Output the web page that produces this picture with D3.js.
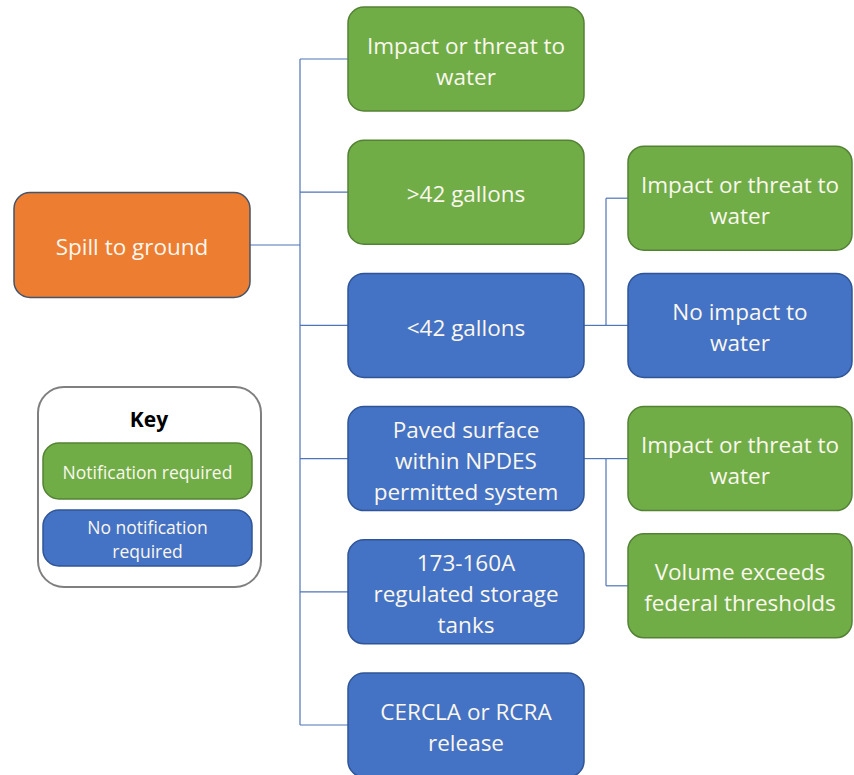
<!DOCTYPE html>
<html lang="en">
<head>
    <meta charset="UTF-8">
    <title>Spill to ground</title>
    <script src="https://cdnjs.cloudflare.com/ajax/libs/d3/7.8.5/d3.min.js"></script>
    <style>
        body { margin: 0; background: white; }
        svg { display: block; }
        text { font-family: 'Open Sans', 'Noto Sans', sans-serif; fill: #fbf7ee; text-anchor: middle; }
        line.link { stroke: #4f74b8; stroke-width: 1.2px; }
    </style>
</head>
<body>
<svg id="main" width="854" height="775"></svg>
<script>
    "use strict";

    // root of the tree
    const rootLabel = ["Spill to ground"];

    // second level, top to bottom
    const branchLabels = [
        ["Impact or threat to", "water"],
        [">42 gallons"],
        ["<42 gallons"],
        ["Paved surface", "within NPDES", "permitted system"],
        ["173-160A", "regulated storage", "tanks"],
        ["CERCLA or RCRA", "release"]
    ];
    const branchNotify = [true, true, false, false, false, false];

    // third level: parent index, slot relative to parent (-1 above, 0 level, 1 below)
    const leafParent = [2, 2, 3, 3];
    const leafSlot = [-1, 0, 0, 1];
    const leafLabels = [
        ["Impact or threat to", "water"],
        ["No impact to", "water"],
        ["Impact or threat to", "water"],
        ["Volume exceeds", "federal thresholds"]
    ];
    const leafNotify = [true, false, true, true];

    // key
    const keyLabels = [["Notification required"], ["No notification", "required"]];
    const keyNotify = [true, false];

    const colors = {
        notify: { fill: "#70ad47", stroke: "#548235" },
        none: { fill: "#4472c4", stroke: "#2f5597" },
        root: { fill: "#ed7d31", stroke: "#44546a" }
    };

    const boxW = 236, boxH = 104, radius = 16;
    const svg = d3.select("#main");

    const y = d3.scalePoint()
        .domain(d3.range(branchLabels.length))
        .range([59, 725]);
    const step = y.step();

    const rootX = 14, midX = 348, leafX = 628;
    const trunkX = 300;

    const links = svg.append("g");
    const nodes = svg.append("g");

    function drawBox(g, x, cy, w, h, lines, style, fontSize, lineH) {
        const box = g.append("g").attr("transform", "translate(" + x + "," + (cy - h / 2) + ")");
        box.append("rect")
            .attr("width", w).attr("height", h)
            .attr("rx", radius).attr("ry", radius)
            .attr("fill", style.fill).attr("stroke", style.stroke).attr("stroke-width", 1.5);
        const t = box.append("text")
            .attr("x", w / 2)
            .attr("font-size", fontSize);
        lines.forEach((s, i) => {
            t.append("tspan")
                .attr("x", w / 2)
                .attr("y", h / 2 + (i - (lines.length - 1) / 2) * lineH)
                .attr("dy", "0.45em")
                .text(s);
        });
    }

    // links: root to trunk, trunk to each branch
    const rootY = 245;
    links.append("line").attr("class", "link")
        .attr("x1", rootX + boxW).attr("y1", rootY).attr("x2", trunkX).attr("y2", rootY);
    links.append("line").attr("class", "link")
        .attr("x1", trunkX).attr("y1", y(0)).attr("x2", trunkX).attr("y2", y(branchLabels.length - 1));
    links.selectAll("line.branch")
        .data(branchLabels)
        .join("line")
        .attr("class", "link branch")
        .attr("x1", trunkX).attr("x2", midX)
        .attr("y1", (d, i) => y(i)).attr("y2", (d, i) => y(i));

    // leaves
    const leafY = leafParent.map((p, i) => y(p) + leafSlot[i] * step * 0.955);
    const elbowX = midX + boxW + 22;
    d3.groups(leafParent.map((p, i) => ({ p, i })), d => d.p).forEach(([p, kids]) => {
        links.append("line").attr("class", "link")
            .attr("x1", midX + boxW).attr("y1", y(p)).attr("x2", elbowX).attr("y2", y(p));
        const ys = kids.map(k => leafY[k.i]).concat([y(p)]);
        links.append("line").attr("class", "link")
            .attr("x1", elbowX).attr("x2", elbowX)
            .attr("y1", d3.min(ys)).attr("y2", d3.max(ys));
        kids.forEach(k => {
            links.append("line").attr("class", "link")
                .attr("x1", elbowX).attr("x2", leafX)
                .attr("y1", leafY[k.i]).attr("y2", leafY[k.i]);
        });
    });

    drawBox(nodes, rootX, rootY, boxW, 105, rootLabel, colors.root, 22.5, 31);
    branchLabels.forEach((lines, i) => {
        drawBox(nodes, midX, y(i), boxW, boxH, lines, branchNotify[i] ? colors.notify : colors.none, 22.5, 31);
    });
    leafLabels.forEach((lines, i) => {
        drawBox(nodes, leafX, leafY[i], 224, boxH, lines, leafNotify[i] ? colors.notify : colors.none, 22.5, 31);
    });

    // key
    const key = svg.append("g");
    key.append("rect")
        .attr("x", 38).attr("y", 387).attr("width", 223).attr("height", 200)
        .attr("rx", 26).attr("ry", 26)
        .attr("fill", "white").attr("stroke", "#7f7f7f").attr("stroke-width", 2);
    key.append("text")
        .attr("x", 149).attr("y", 420).attr("dy", "0.35em")
        .attr("font-size", 21).attr("font-weight", "bold")
        .style("fill", "#000")
        .text("Key");
    const keyY = d3.scalePoint().domain(d3.range(keyLabels.length)).range([471, 538]);
    keyLabels.forEach((lines, i) => {
        drawBox(key, 43, keyY(i), 209, 56, lines, keyNotify[i] ? colors.notify : colors.none, 17.5, 24);
    });
</script>
</body>
</html>
